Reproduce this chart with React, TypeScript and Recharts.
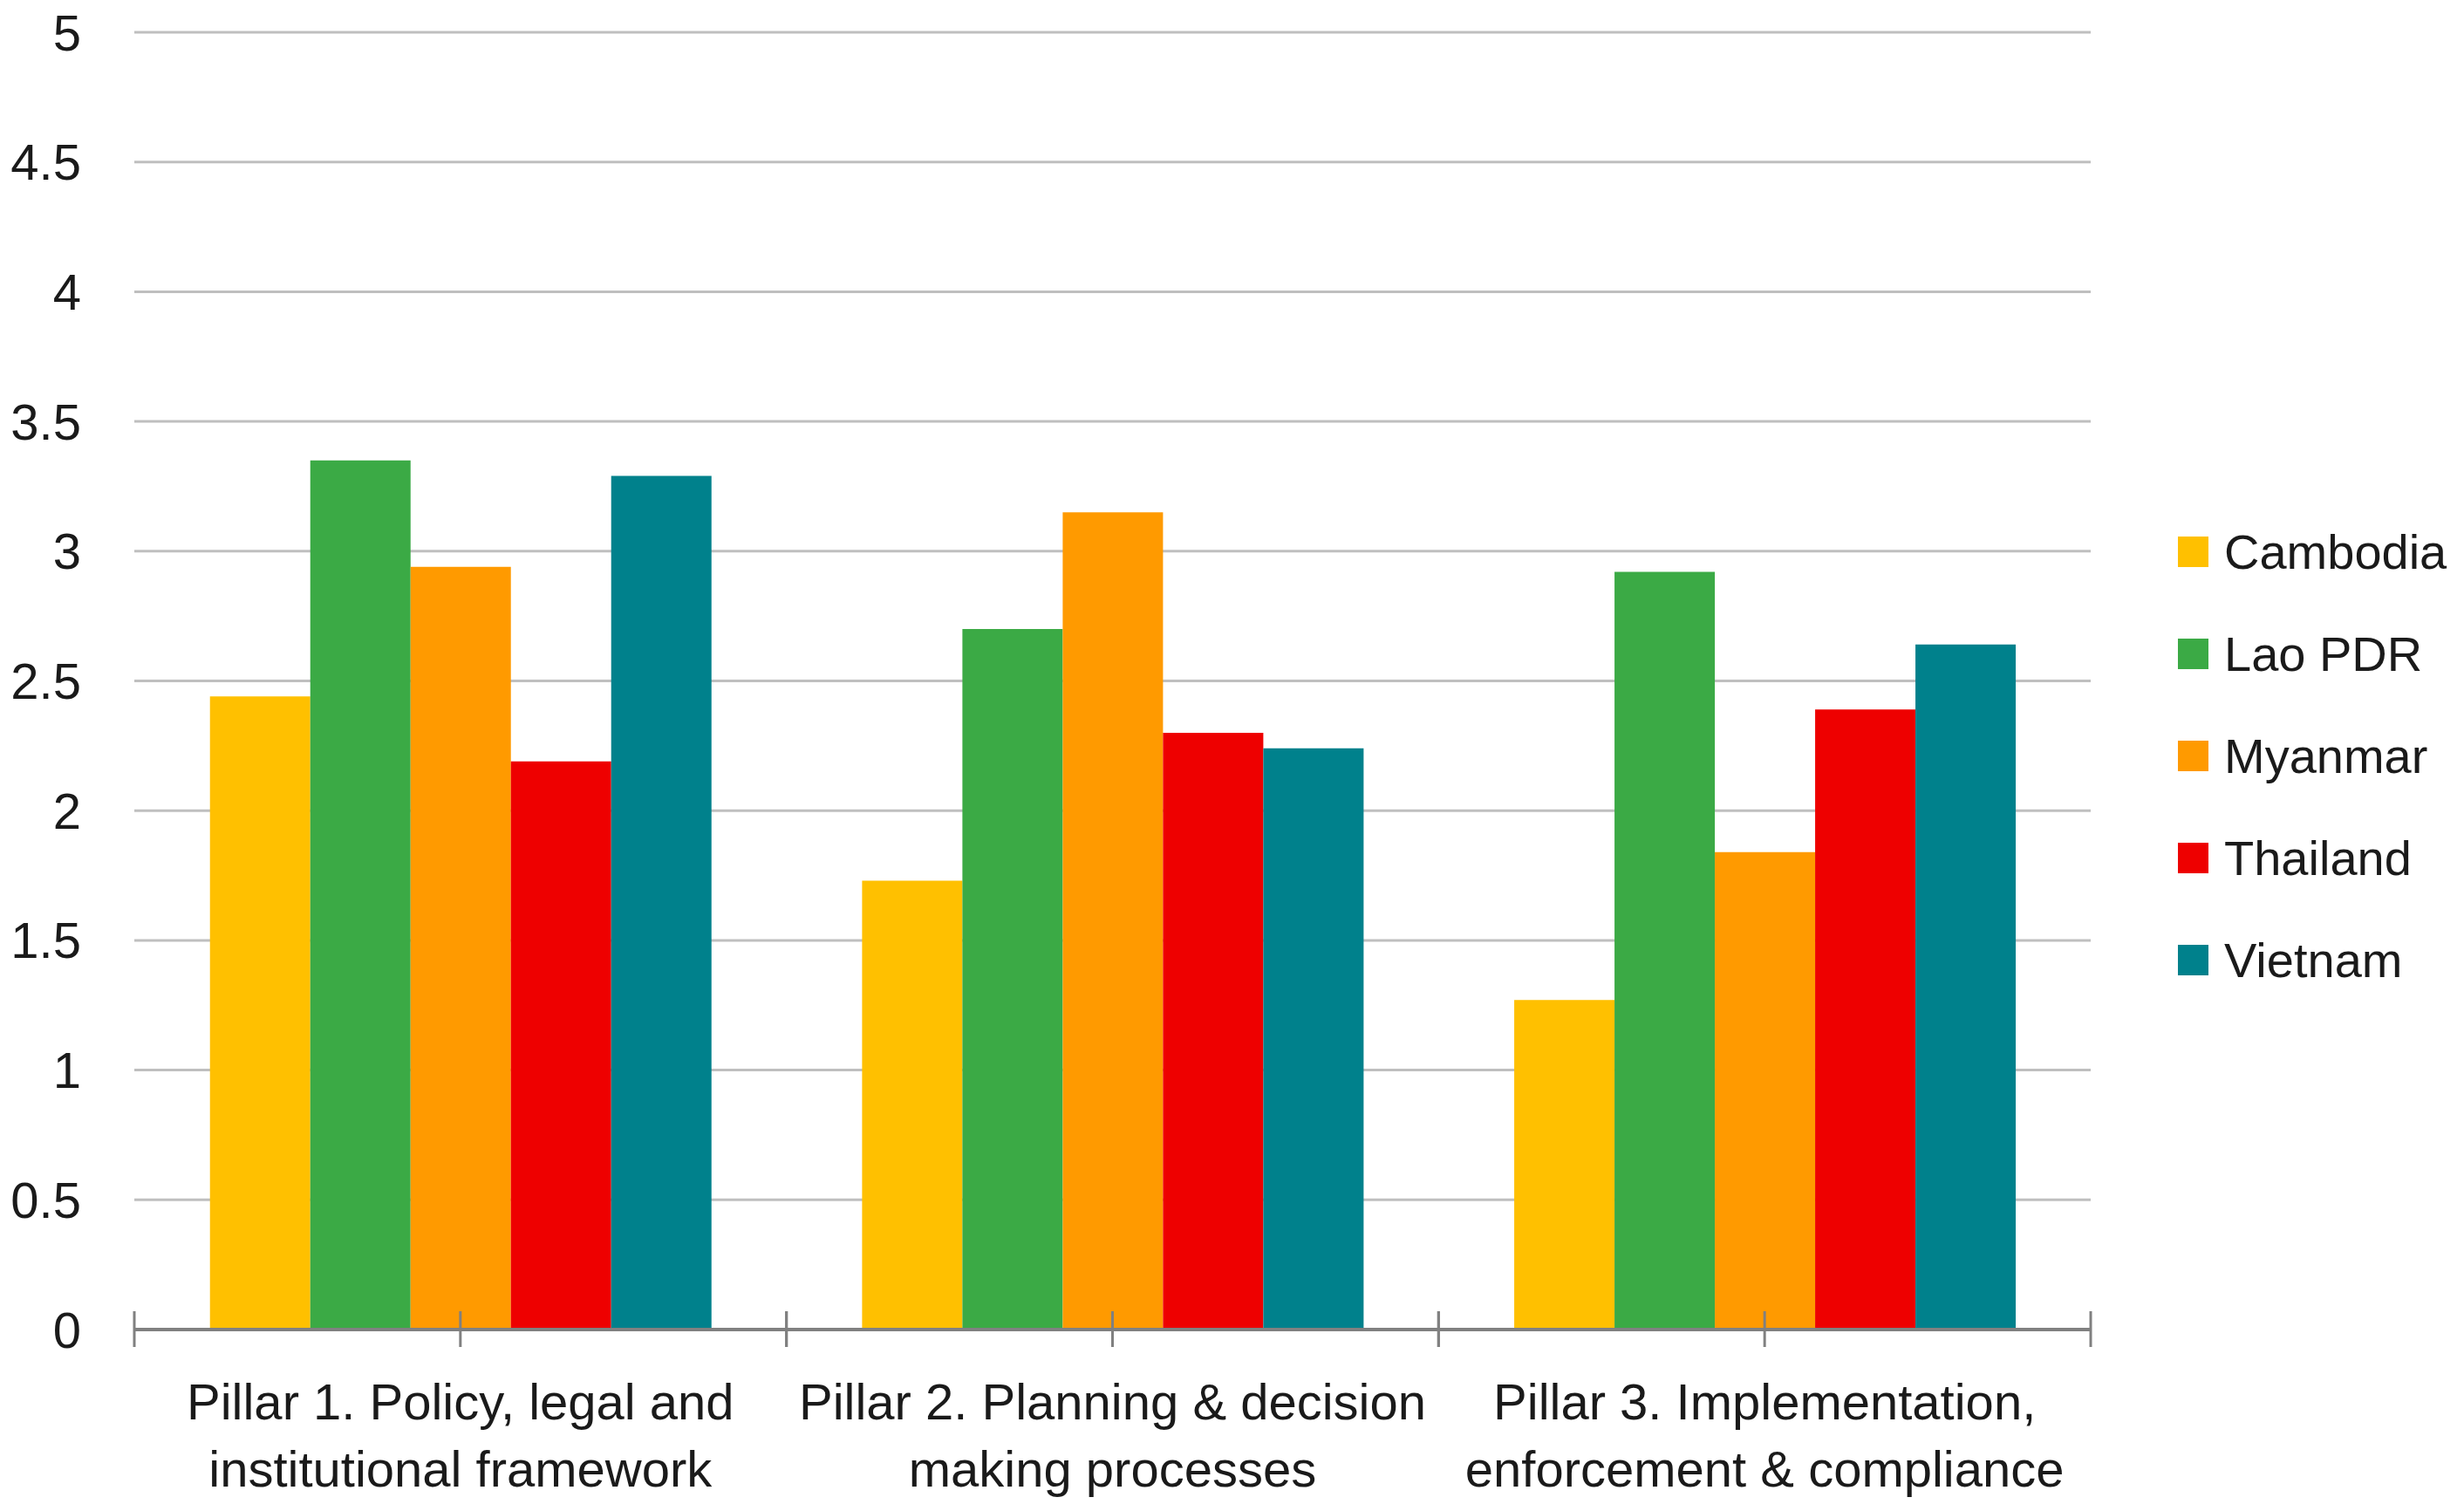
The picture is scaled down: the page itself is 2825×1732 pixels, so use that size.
import { Bar, BarChart, CartesianGrid, Legend, XAxis, YAxis } from "recharts";

const pillars = [
  "Pillar 1. Policy, legal and\ninstitutional framework",
  "Pillar 2. Planning & decision\nmaking processes",
  "Pillar 3. Implementation,\nenforcement & compliance",
];

const cambodia = [2.44, 1.73, 1.27];
const laoPdr = [3.35, 2.7, 2.92];
const myanmar = [2.94, 3.15, 1.84];
const thailand = [2.19, 2.3, 2.39];
const vietnam = [3.29, 2.24, 2.64];

const yTicks = [0, 0.5, 1, 1.5, 2, 2.5, 3, 3.5, 4, 4.5, 5];

const series = [
  { key: "Cambodia", color: "#FFC000" },
  { key: "Lao PDR", color: "#3BAA45" },
  { key: "Myanmar", color: "#FF9A00" },
  { key: "Thailand", color: "#EE0000" },
  { key: "Vietnam", color: "#00818C" },
];

const data = pillars.map((name, i) => ({
  name,
  Cambodia: cambodia[i],
  "Lao PDR": laoPdr[i],
  Myanmar: myanmar[i],
  Thailand: thailand[i],
  Vietnam: vietnam[i],
}));

const W = 2825;
const H = 1732;
const PLOT_LEFT = 154;
const PLOT_RIGHT = 2397;
const PLOT_TOP = 37;
const PLOT_BOTTOM = 1524;
const BAND = (PLOT_RIGHT - PLOT_LEFT) / pillars.length;
const FONT = "'Liberation Sans', Arial, sans-serif";

function PillarTick({ x, y, payload }: any) {
  const lines = String(payload.value).split("\n");
  const tick = (tx: number) => (
    <line x1={tx} x2={tx} y1={y - 21} y2={y + 20} stroke="#808080" strokeWidth={3} />
  );
  return (
    <g>
      {tick(x - BAND / 2)}
      {tick(x)}
      {tick(x + BAND / 2)}
      <text x={x} y={y} textAnchor="middle" fontSize={58} fill="#1a1a1a" fontFamily={FONT}>
        {lines.map((line, i) => (
          <tspan key={i} x={x} y={y + 103 + i * 77}>
            {line}
          </tspan>
        ))}
      </text>
    </g>
  );
}

function LegendBox({ payload }: any) {
  return (
    <div style={{ fontFamily: FONT }}>
      {(payload || []).map((item: any) => (
        <div key={item.value} style={{ display: "flex", alignItems: "center", height: 117 }}>
          <span style={{ width: 35, height: 35, background: item.color, display: "inline-block" }} />
          <span style={{ marginLeft: 18, fontSize: 56, color: "#1a1a1a" }}>{item.value}</span>
        </div>
      ))}
    </div>
  );
}

export default function App() {
  return (
    <div style={{ position: "fixed", left: 0, top: 0, width: W, height: H, background: "#fff" }}>
      <BarChart
        width={W}
        height={H}
        data={data}
        margin={{ top: PLOT_TOP, right: W - PLOT_RIGHT, bottom: 0, left: 0 }}
        barCategoryGap="11.6%"
        barGap={0}
        style={{ fontFamily: FONT }}
      >
        <CartesianGrid vertical={false} stroke="#BFBFBF" strokeWidth={3} />
        <XAxis
          dataKey="name"
          height={H - PLOT_BOTTOM}
          axisLine={{ stroke: "#808080", strokeWidth: 4 }}
          tickLine={false}
          tickSize={0}
          tickMargin={0}
          interval={0}
          tick={<PillarTick />}
        />
        <YAxis
          width={PLOT_LEFT}
          domain={[0, 5]}
          ticks={yTicks}
          axisLine={false}
          tickLine={false}
          tickSize={0}
          tickMargin={61}
          tick={{ fontSize: 58, fill: "#1a1a1a", fontFamily: FONT }}
        />
        <Legend
          layout="vertical"
          align="center"
          verticalAlign="middle"
          content={<LegendBox />}
          wrapperStyle={{ left: 2497, top: 574, width: 320 }}
        />
        {series.map((s) => (
          <Bar key={s.key} dataKey={s.key} name={s.key} fill={s.color} isAnimationActive={false} />
        ))}
      </BarChart>
    </div>
  );
}
